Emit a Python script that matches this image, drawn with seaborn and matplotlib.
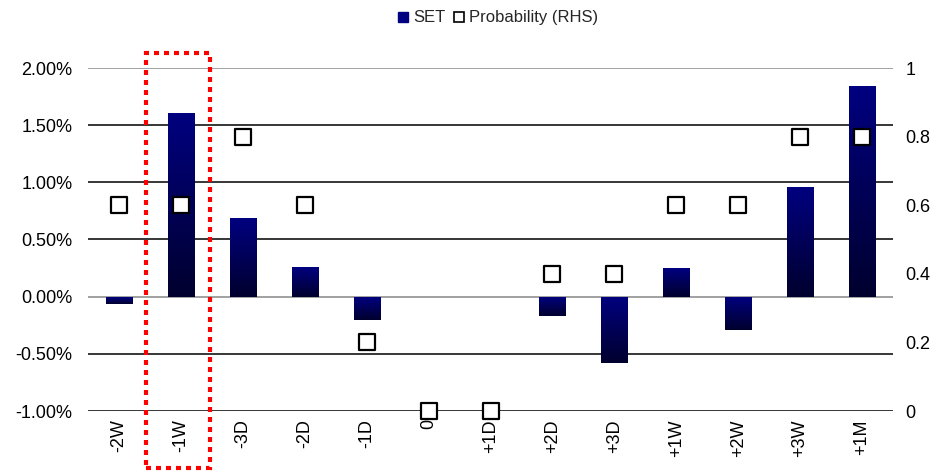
import numpy as np
import matplotlib
matplotlib.use("Agg")
import matplotlib.pyplot as plt
from matplotlib.patches import Rectangle
from matplotlib.lines import Line2D
from matplotlib.colors import LinearSegmentedColormap
import seaborn as sns

# Event window labels and values
categories = ["-2W", "-1W", "-3D", "-2D", "-1D", "0", "+1D", "+2D", "+3D",
              "+1W", "+2W", "+3W", "+1M"]
set_return = [-0.06, 1.61, 0.69, 0.26, -0.20, 0.0, 0.0, -0.17, -0.58,
              0.25, -0.29, 0.96, 1.84]
probability = [0.6, 0.6, 0.8, 0.6, 0.2, 0.0, 0.0, 0.4, 0.4, 0.6, 0.6, 0.8, 0.8]
left_ticks = [-1.0, -0.5, 0.0, 0.5, 1.0, 1.5, 2.0]
right_ticks = [0, 0.2, 0.4, 0.6, 0.8, 1.0]
right_labels = ["0", "0.2", "0.4", "0.6", "0.8", "1"]

sns.set_theme(style="white")
plt.rcParams["font.family"] = ["Liberation Sans", "DejaVu Sans"]

fig = plt.figure(figsize=(9.43, 4.73), dpi=100)
ax = fig.add_axes([88 / 943, 1 - 411 / 473, (893 - 88) / 943, (411 - 68) / 473])

navy = "#000080"
sns.barplot(x=categories, y=set_return, ax=ax, color=navy, width=0.42,
            saturation=1, zorder=2)

# vertical gradient fill on each bar: navy at top, near-black at bottom
grad = LinearSegmentedColormap.from_list("bar_grad", ["#00002E", navy])
gimg = np.linspace(0, 1, 256).reshape(-1, 1)
for p in ax.patches:
    x0, y0 = p.get_x(), p.get_y()
    w, h = p.get_width(), p.get_height()
    p.set_facecolor("none")
    p.set_edgecolor("none")
    p.set_linewidth(0)
    if h == 0:
        continue
    ybot, ytop = min(y0, y0 + h), max(y0, y0 + h)
    im = ax.imshow(gimg, cmap=grad, origin="lower", aspect="auto",
                   extent=[x0, x0 + w, ybot, ytop], zorder=2.5)
    im.set_clip_path(p)

ax.set_xlim(-0.5, len(categories) - 0.5)
ax.set_ylim(-1.0, 2.0)
ax.set_yticks(left_ticks)
ax.set_yticklabels([f"{v:.2f}%" for v in left_ticks])
for v in left_ticks:
    c = "#888888" if v in (0.0, 2.0) else "black"
    ax.axhline(v, color=c, lw=1.1, zorder=1)
ax.set_xticks(range(len(categories)))
ax.set_xticklabels(categories, rotation=90)
ax.tick_params(axis="y", length=0, pad=11, labelsize=13, colors="black")
ax.tick_params(axis="x", length=0, pad=6, labelsize=13, colors="black")
for s in ax.spines.values():
    s.set_visible(False)
ax.set_xlabel("")
ax.set_ylabel("")

ax2 = ax.twinx()
sns.scatterplot(x=list(range(len(categories))), y=probability, ax=ax2,
                marker="s", s=140, color="white", edgecolor="black",
                linewidth=1.6, zorder=5, legend=False, clip_on=False)
ax2.set_ylim(0, 1)
ax2.set_yticks(right_ticks)
ax2.set_yticklabels(right_labels)
ax2.tick_params(axis="y", length=0, pad=9, labelsize=13, colors="black")
for s in ax2.spines.values():
    s.set_visible(False)
ax2.set_ylabel("")
ax2.set_xlim(-0.5, len(categories) - 0.5)

# highlight box around the -1W column
box = Rectangle((0.436, -1.50), 1.034, 3.63, transform=ax.transData,
                fill=False, edgecolor="#FF0000", lw=3,
                linestyle=(0, (1.2, 1.2)), clip_on=False, zorder=10)
ax2.add_patch(box)
box.set_transform(ax.transData)

handles = [
    Line2D([], [], marker="s", linestyle="none", markersize=7,
           markerfacecolor=navy, markeredgecolor=navy),
    Line2D([], [], marker="s", linestyle="none", markersize=7,
           markerfacecolor="white", markeredgecolor="black",
           markeredgewidth=1.2),
]
fig.legend(handles, ["SET", "Probability (RHS)"], loc="center",
           bbox_to_anchor=(0.527, 0.962), ncol=2, frameon=False,
           fontsize=12, handletextpad=0.2, columnspacing=0.4,
           handlelength=0.8)

fig.savefig("out.png", dpi=100)
